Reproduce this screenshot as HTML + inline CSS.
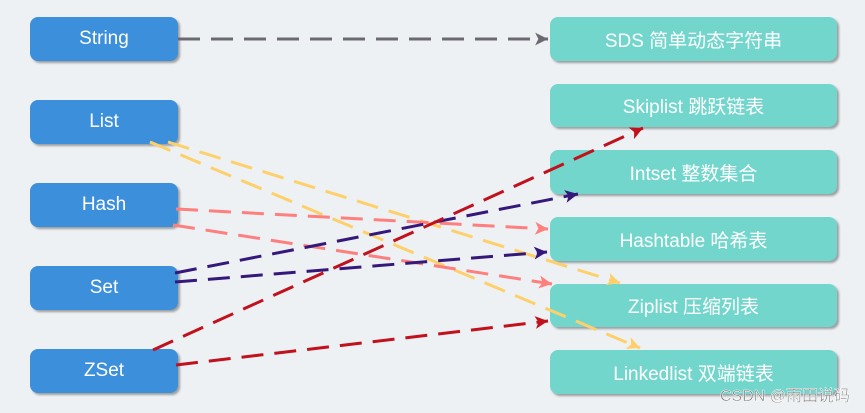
<!DOCTYPE html>
<html><head><meta charset="utf-8"><style>
body{margin:0;width:865px;height:413px;background:#eef1f4;position:relative;overflow:hidden;font-family:"Liberation Sans","Noto Sans CJK SC",sans-serif}
.b{position:absolute;border-radius:8px;color:#fff;font-size:19px;display:flex;align-items:center;justify-content:center;box-shadow:2px 2px 2px rgba(0,0,0,0.35)}
.l{left:30px;width:148px;height:44px;background:#3c8fdb}
.r{left:550px;width:287px;height:44px;background:#72d6cc}
svg{position:absolute;left:0;top:0}
</style></head><body>
<div class="b l" style="top:17px">String</div>
<div class="b l" style="top:100px">List</div>
<div class="b l" style="top:183px">Hash</div>
<div class="b l" style="top:266px">Set</div>
<div class="b l" style="top:349px">ZSet</div>
<div class="b r" style="top:17px">SDS 简单动态字符串</div>
<div class="b r" style="top:84px;height:43px">Skiplist 跳跃链表</div>
<div class="b r" style="top:150px">Intset 整数集合</div>
<div class="b r" style="top:217px">Hashtable 哈希表</div>
<div class="b r" style="top:284px;height:43px">Ziplist 压缩列表</div>
<div class="b r" style="top:350px">Linkedlist 双端链表</div>
<svg width="865" height="413">
<defs>
<marker id="a" viewBox="0 0 14 14" refX="13" refY="7" markerWidth="15" markerHeight="15" markerUnits="userSpaceOnUse" orient="auto"><path d="M1,1 L13,7 L1,13 L4,7 Z" fill="context-stroke" stroke="none"/></marker>
</defs>
<g fill="none" stroke-width="3" stroke-dasharray="22,11" marker-end="url(#a)">
<line x1="178" y1="39" x2="548" y2="39" stroke="#6b6a72"/>
<line x1="168" y1="142" x2="620" y2="283" stroke="#fdd06b"/>
<line x1="150" y1="142" x2="640" y2="348" stroke="#fdd06b"/>
<line x1="176" y1="209" x2="548" y2="229" stroke="#fd7f7e"/>
<line x1="173" y1="225" x2="552" y2="284" stroke="#fd7f7e"/>
<line x1="175" y1="273" x2="578" y2="194" stroke="#35197a"/>
<line x1="175" y1="282" x2="547" y2="252" stroke="#35197a"/>
<line x1="153" y1="350" x2="643" y2="128" stroke="#c0111d"/>
<line x1="176" y1="365" x2="548" y2="321" stroke="#c0111d"/>
</g>
<text x="850" y="401" text-anchor="end" font-size="16" fill="#777" stroke="#fff" stroke-width="0.5" font-family="Liberation Sans,Noto Sans CJK SC,sans-serif">CSDN @雨田说码</text>
</svg>
</body></html>
